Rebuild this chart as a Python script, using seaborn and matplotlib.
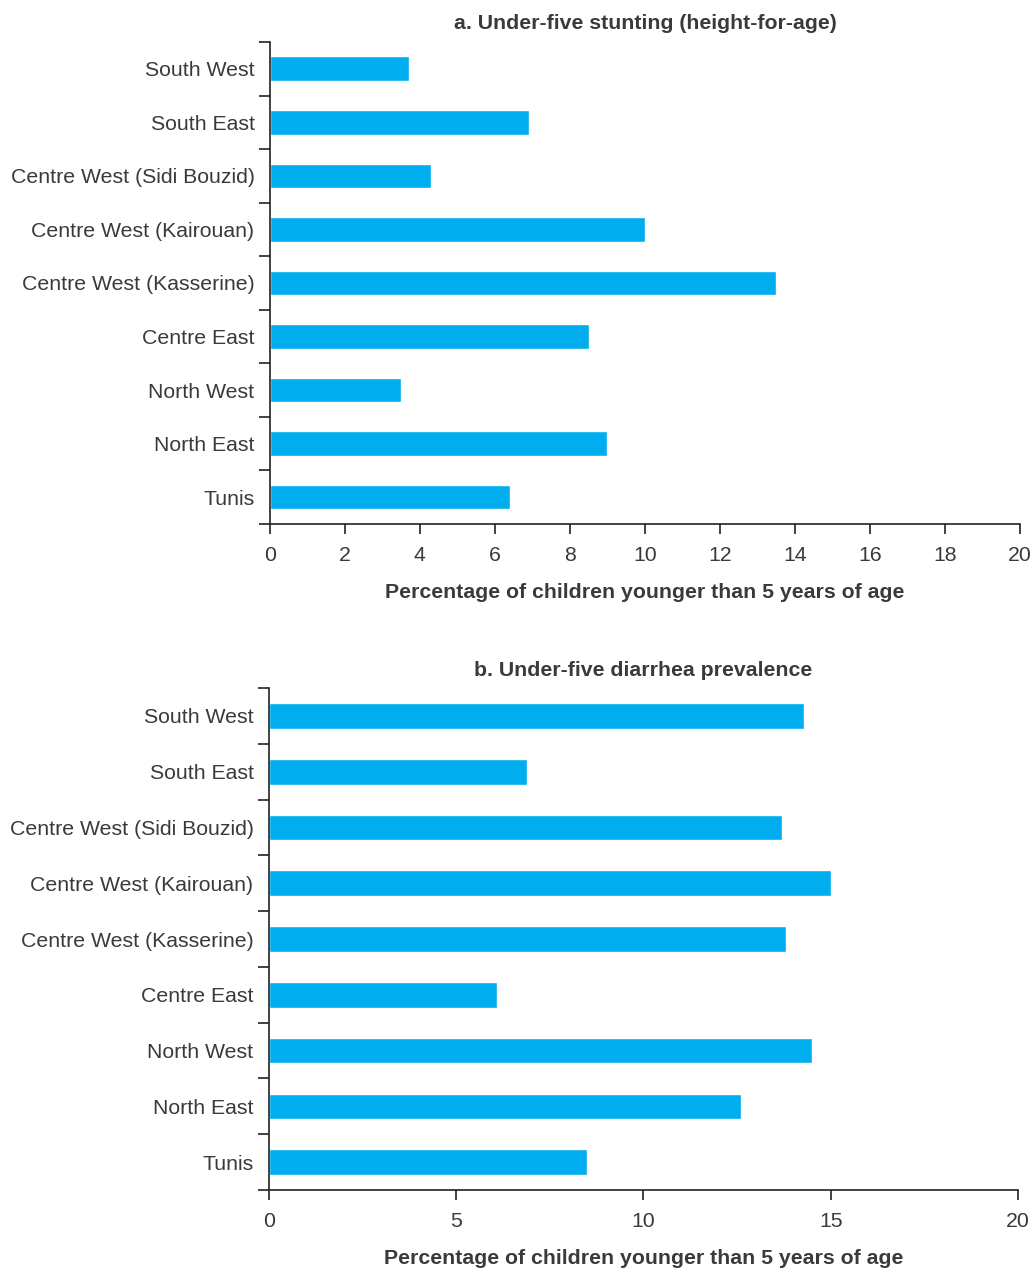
import matplotlib
matplotlib.use("Agg")
import matplotlib.pyplot as plt
from matplotlib.ticker import FixedLocator
import seaborn as sns
import pandas as pd
import numpy as np

regions = [
    "South West",
    "South East",
    "Centre West (Sidi Bouzid)",
    "Centre West (Kairouan)",
    "Centre West (Kasserine)",
    "Centre East",
    "North West",
    "North East",
    "Tunis",
]
stunting = [3.7, 6.9, 4.3, 10.0, 13.5, 8.5, 3.5, 9.0, 6.4]
diarrhea = [14.3, 6.9, 13.7, 15.0, 13.8, 6.1, 14.5, 12.6, 8.5]

stunting_ticks = list(range(0, 21, 2))
diarrhea_ticks = list(range(0, 21, 5))

sns.set_theme(style="white")
plt.rcParams["font.family"] = ["Liberation Sans", "DejaVu Sans"]

BAR = "#00AEEF"
TXT = "#3a3a3a"
FS = 15.3

fig = plt.figure(figsize=(10.34, 12.68), dpi=100)
ax_a = fig.add_axes([0.261, 0.5868, 0.7255, 0.3801])
ax_b = fig.add_axes([0.260, 0.0615, 0.7245, 0.3959])


def draw(ax, values, xticks, title):
    df = pd.DataFrame({"region": regions, "value": values})
    sns.barplot(data=df, x="value", y="region", order=regions, orient="h",
                color=BAR, saturation=1, width=0.46, ax=ax)
    ax.set_xlim(0, 20)
    ax.set_ylim(len(regions) - 0.5, -0.5)
    ax.set_xticks(xticks)
    ax.set_xticklabels([str(t) for t in xticks], fontsize=FS, color=TXT)
    ax.set_yticks(range(len(regions)))
    ax.set_yticklabels(regions, fontsize=FS, color=TXT)
    ax.yaxis.set_minor_locator(FixedLocator(np.arange(-0.5, len(regions), 1.0)))
    ax.tick_params(axis="y", which="major", length=0, pad=11)
    ax.tick_params(axis="y", which="minor", length=8, width=1.2,
                   color="#222222", direction="out", left=True)
    ax.tick_params(axis="x", which="major", length=7, width=1.2,
                   color="#222222", direction="out", bottom=True, pad=9)
    for side in ["top", "right"]:
        ax.spines[side].set_visible(False)
    for side in ["left", "bottom"]:
        ax.spines[side].set_color("#222222")
        ax.spines[side].set_linewidth(1.2)
    ax.set_ylabel("")
    ax.set_xlabel("Percentage of children younger than 5 years of age",
                  fontsize=FS, fontweight="bold", color=TXT, labelpad=13)
    ax.set_title(title, fontsize=FS, fontweight="bold", color=TXT, pad=9)


draw(ax_a, stunting, stunting_ticks, "a. Under-five stunting (height-for-age)")
draw(ax_b, diarrhea, diarrhea_ticks, "b. Under-five diarrhea prevalence")

fig.savefig("out.png", dpi=100, facecolor="white")
